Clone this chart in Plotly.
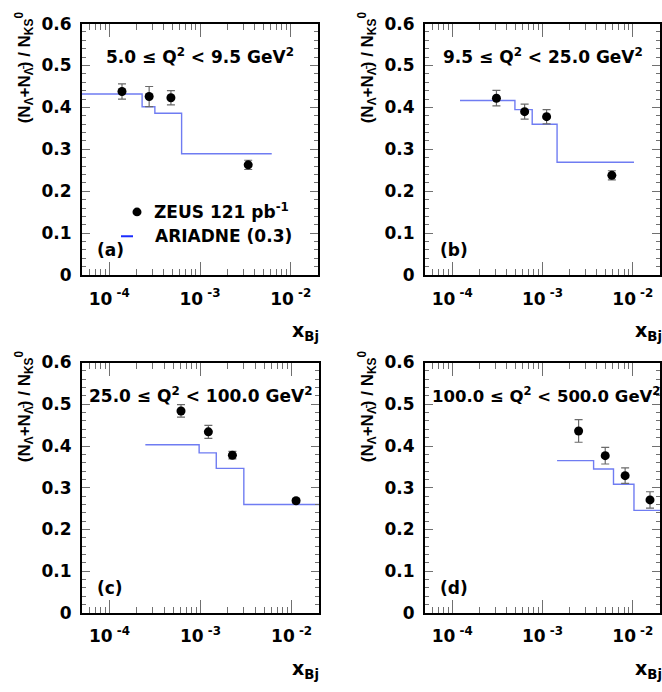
import plotly.graph_objects as go

W, H = 662, 692

# ---- measured ratios (N_Lambda + N_Lambdabar) / N_K0S versus x_Bj ----
a_x = [1.38e-4, 2.75e-4, 4.78e-4, 3.40e-3]
a_y = [0.438, 0.426, 0.423, 0.263]
a_err = [0.018, 0.024, 0.017, 0.011]

b_x = [3.09e-4, 6.34e-4, 1.11e-3, 5.86e-3]
b_y = [0.422, 0.390, 0.378, 0.238]
b_err = [0.0185, 0.018, 0.017, 0.011]

c_x = [6.11e-4, 1.22e-3, 2.24e-3, 1.12e-2]
c_y = [0.484, 0.434, 0.378, 0.269]
c_err = [0.015, 0.0155, 0.009, 0.005]

d_x = [2.51e-3, 4.95e-3, 8.22e-3, 1.55e-2]
d_y = [0.436, 0.377, 0.329, 0.271]
d_err = [0.027, 0.020, 0.0185, 0.0195]

# ---- ARIADNE (0.3) prediction: bin edges and bin contents ----
a_edges = [4.0e-5, 2.30e-4, 3.18e-4, 6.27e-4, 6.18e-3]
a_mc = [0.432, 0.4015, 0.386, 0.2896]

b_edges = [1.22e-4, 4.95e-4, 7.69e-4, 1.45e-3, 1.03e-2]
b_mc = [0.4164, 0.3947, 0.360, 0.2693]

c_edges = [2.48e-4, 9.66e-4, 1.49e-3, 2.99e-3, 3.0e-2]
c_mc = [0.403, 0.3836, 0.3465, 0.260]

d_edges = [1.45e-3, 3.68e-3, 6.11e-3, 1.03e-2, 3.0e-2]
d_mc = [0.365, 0.345, 0.3086, 0.246]

q2_labels = [
    "5.0 ≤ Q<sup>2</sup> &lt; 9.5 GeV<sup>2</sup>",
    "9.5 ≤ Q<sup>2</sup> &lt; 25.0 GeV<sup>2</sup>",
    "25.0 ≤ Q<sup>2</sup> &lt; 100.0 GeV<sup>2</sup>",
    "100.0 ≤ Q<sup>2</sup> &lt; 500.0 GeV<sup>2</sup>",
]
panel_tags = ["(a)", "(b)", "(c)", "(d)"]

x_major = [1e-4, 1e-3, 1e-2]
x_major_text = ["<b>10<sup>\u00a0-4</sup></b>", "<b>10<sup>\u00a0-3</sup></b>",
                "<b>10<sup>\u00a0-2</sup></b>"]
x_minor = [m * 10.0 ** e for e in (-5, -4, -3, -2) for m in range(2, 10)]
y_major = [0, 0.1, 0.2, 0.3, 0.4, 0.5, 0.6]
y_major_text = ["<b>0</b>", "<b>0.1</b>", "<b>0.2</b>", "<b>0.3</b>",
                "<b>0.4</b>", "<b>0.5</b>", "<b>0.6</b>"]

data_sets = [
    (a_x, a_y, a_err, a_edges, a_mc),
    (b_x, b_y, b_err, b_edges, b_mc),
    (c_x, c_y, c_err, c_edges, c_mc),
    (d_x, d_y, d_err, d_edges, d_mc),
]

# frame boxes in pixels: (left, right, top, bottom)
frames = [
    (82, 318, 14, 273),
    (425, 660, 14, 273),
    (82, 319, 363, 621),
    (425, 660, 363, 621),
]


def px(x):
    return x / W


def py(y):
    return 1 - y / H


BOLD = dict(family="DejaVu Sans", size=17, color="black", weight=700)
TICK_GREY = "#707070"

fig = go.Figure()
layout = dict(
    width=W, height=H,
    margin=dict(l=0, r=0, t=0, b=0),
    paper_bgcolor="white", plot_bgcolor="white",
    showlegend=False,
)

annotations = []
shapes = []


def label(text, x, y, xanchor="center", font=BOLD, **kw):
    annotations.append(dict(
        text="<b>" + text + "</b>", x=px(x), y=py(y),
        xref="paper", yref="paper", xanchor=xanchor, yanchor="middle",
        showarrow=False, font=font, **kw,
    ))


for i, ((xs, ys, errs, edges, mc), (l, r, t, b)) in enumerate(zip(data_sets, frames)):
    n = i + 1
    xa = "x" if n == 1 else f"x{n}"
    ya = "y" if n == 1 else f"y{n}"
    xkey = "xaxis" if n == 1 else f"xaxis{n}"
    ykey = "yaxis" if n == 1 else f"yaxis{n}"

    # model histogram drawn as steps
    fig.add_trace(go.Scatter(
        x=edges, y=mc + [mc[-1]], mode="lines", line_shape="hv",
        line=dict(color="#6f7cf2", width=1.4),
        xaxis=xa, yaxis=ya, hoverinfo="skip",
    ))
    # data points with error bars
    fig.add_trace(go.Scatter(
        x=xs, y=ys, mode="markers",
        marker=dict(color="black", size=9, symbol="circle"),
        error_y=dict(type="data", array=errs, color="#6a6a6a", thickness=1.2, width=4),
        xaxis=xa, yaxis=ya,
    ))

    layout[xkey] = dict(
        type="log", domain=[px(l), px(r)], anchor=ya,
        range=[-4.301, -1.699],
        tickmode="array", tickvals=x_major, ticktext=x_major_text,
        ticks="inside", ticklen=13, tickwidth=1, tickcolor=TICK_GREY,
        minor=dict(tickmode="array", tickvals=x_minor, ticks="inside",
                   ticklen=6, tickwidth=1, tickcolor=TICK_GREY, showgrid=False),
        showline=True, linecolor="black", linewidth=2, mirror="allticks",
        showgrid=False, zeroline=False,
        tickfont=BOLD, ticklabelstandoff=7,
    )
    layout[ykey] = dict(
        domain=[py(b), py(t)], anchor=xa,
        range=[0, 0.6],
        tickmode="array", tickvals=y_major, ticktext=y_major_text,
        ticks="inside", ticklen=8, tickwidth=1, tickcolor=TICK_GREY,
        minor=dict(dtick=0.02, ticks="inside", ticklen=4, tickwidth=1,
                   tickcolor=TICK_GREY, showgrid=False),
        showline=True, linecolor="black", linewidth=2, mirror="allticks",
        showgrid=False, zeroline=False,
        tickfont=BOLD, ticklabelstandoff=5,
    )

    # Q^2 range label
    if i < 3:
        label(q2_labels[i], (l + r) / 2, t + 33)
    else:
        label(q2_labels[i], 546, t + 33, font=dict(BOLD, size=16.5))
    # panel tag
    label(panel_tags[i], l + 13, b - 26, xanchor="left")
    # x-axis title
    label("x<sub>Bj</sub>", l + 208, b + 58, xanchor="left", font=dict(BOLD, size=19))
    # y-axis title
    label("(N<sub>Λ</sub>+N<sub>Λ\u0304</sub>) / N<sub>KS</sub><sup>0</sup>",
          l - 58, t + 45, textangle=-90,
          font=dict(family="Liberation Sans", size=17, color="black", weight=700))

# legend inside panel (a)
shapes.append(dict(type="circle", xref="paper", yref="paper",
                   x0=px(132.5), x1=px(141.5), y0=py(212.5), y1=py(203.5),
                   fillcolor="black", line=dict(color="black", width=0)))
shapes.append(dict(type="line", xref="paper", yref="paper",
                   x0=px(121), x1=px(133), y0=py(233), y1=py(233),
                   line=dict(color="#1a2cff", width=2)))
label("ZEUS 121 pb<sup>-1</sup>", 152, 207, xanchor="left")
label("ARIADNE (0.3)", 153, 233, xanchor="left")

layout["annotations"] = annotations
layout["shapes"] = shapes
fig.update_layout(**layout)
fig.write_html("out.html")
